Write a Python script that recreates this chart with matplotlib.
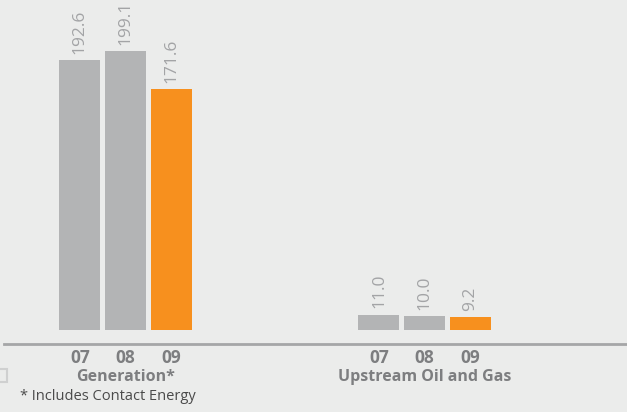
import numpy as np
import matplotlib.pyplot as plt
from matplotlib.patches import Rectangle

years = ['07', '08', '09']
groups = ['Generation*', 'Upstream Oil and Gas']
generation = [192.6, 199.1, 171.6]
upstream = [11.0, 10.0, 9.2]
footnote = '* Includes Contact Energy'

bg = '#ebeceb'
grey_bar = '#b3b4b5'
orange = '#f7901e'
label_grey = '#7d7e80'
value_grey = '#a3a4a6'

plt.rcParams['font.family'] = ['Open Sans', 'DejaVu Sans']

fig = plt.figure(figsize=(6.27, 4.12), dpi=100, facecolor=bg)
ax = fig.add_axes([0.006, (412 - 330) / 412, 0.994, 330 / 412])
ax.set_facecolor(bg)

gen_x = np.arange(3)
ups_x = np.arange(3) + 6.56
colors = [grey_bar, grey_bar, orange]

for xs, vals in [(gen_x, generation), (ups_x, upstream)]:
    ax.bar(xs, vals, width=0.9, color=colors)
    for x, v in zip(xs, vals):
        ax.text(x, v + 4.5, f'{v:.1f}', rotation=90, ha='center', va='bottom',
                fontsize=12.5, color=value_grey)

ax.set_xlim(-1.67, 12.0)
ax.set_ylim(0, 235.4)

for s in ['top', 'right', 'left']:
    ax.spines[s].set_visible(False)
ax.spines['bottom'].set_position(('outward', 10))
ax.spines['bottom'].set_color('#a5a6a7')
ax.spines['bottom'].set_linewidth(2)

ax.set_yticks([])
ax.set_xticks(list(gen_x) + list(ups_x))
ax.set_xticklabels(years + years, fontsize=12.5, fontweight='bold', color=label_grey)
ax.tick_params(axis='x', length=0, pad=4)

for xs, name in [(gen_x, groups[0]), (ups_x, groups[1])]:
    ax.text(np.mean(xs), -0.143, name, transform=ax.get_xaxis_transform(),
            ha='center', va='center', fontsize=11.5, fontweight='bold',
            color=label_grey)

fig.text(20 / 627, 1 - 397 / 412, footnote, ha='left', va='center',
         fontsize=10.5, color='#4a4a4a')

# small clipped legend box at the left edge
fig.patches.append(Rectangle((-7 / 627, 1 - 382 / 412), 14 / 627, 13 / 412,
                             transform=fig.transFigure, fill=False,
                             edgecolor='#cfd0d0', linewidth=1.5))

fig.savefig('out.png', dpi=100, facecolor=bg)
